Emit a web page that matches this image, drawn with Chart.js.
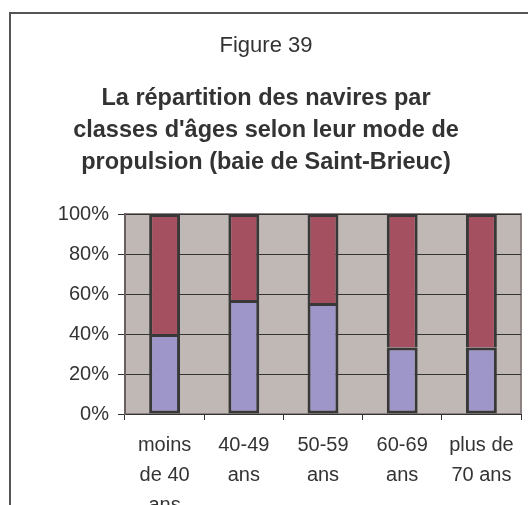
<!DOCTYPE html>
<html>
<head>
<meta charset="utf-8">
<script src="https://cdn.jsdelivr.net/npm/chart.js@4"></script>
<style>
  html, body { margin: 0; padding: 0; background: #fff; overflow: hidden; }
  #frame {
    position: absolute; left: 9px; top: 12px;
    width: 700px; height: 700px;
    border-left: 2px solid #555; border-top: 2px solid #555;
  }
  #chart { display: block; }
</style>
</head>
<body>
<div id="frame"><canvas id="chart" width="517" height="491"></canvas></div>
<script>
const categories = [
  ['moins', 'de 40', 'ans'],
  ['40-49', 'ans'],
  ['50-59', 'ans'],
  ['60-69', 'ans'],
  ['plus de', '70 ans']
];
const serie1 = [40, 57, 55.5, 33.3, 33.3];
const serie2 = [60, 43, 44.5, 66.7, 66.7];
const yTicks = [0, 20, 40, 60, 80, 100];

const FONT = '"Liberation Sans", Arial, Helvetica, sans-serif';

// grey plot background with a thin border
const plotBg = {
  id: 'plotBg',
  beforeDraw(chart) {
    const { ctx, chartArea: a } = chart;
    ctx.save();
    ctx.fillStyle = '#c0b8b5';
    ctx.fillRect(a.left, a.top, a.right - a.left, a.bottom - a.top);
    ctx.strokeStyle = '#8c8282';
    ctx.lineWidth = 2;
    ctx.strokeRect(a.left, a.top, a.right - a.left, a.bottom - a.top);
    ctx.restore();
  }
};

new Chart(document.getElementById('chart'), {
  type: 'bar',
  data: {
    labels: categories,
    datasets: [
      { label: 'Série 1', data: serie1, backgroundColor: '#9e96c8', borderSkipped: false },
      { label: 'Série 2', data: serie2, backgroundColor: '#a55060', borderSkipped: 'start' }
    ]
  },
  options: {
    responsive: false,
    animation: false,
    datasets: {
      bar: {
        borderColor: '#383838',
        borderWidth: 3,
        inflateAmount: 0,
        barPercentage: 0.39,
        categoryPercentage: 1
      }
    },
    plugins: {
      legend: { display: false },
      tooltip: { enabled: false },
      title: {
        display: true,
        text: 'Figure 39',
        color: '#333',
        font: { family: FONT, size: 22, weight: 'normal', lineHeight: 1.2 },
        padding: { top: 19, bottom: 23.6 }
      },
      subtitle: {
        display: true,
        text: ['La répartition des navires par', "classes d'âges selon leur mode de", 'propulsion (baie de Saint-Brieuc)'],
        color: '#333',
        font: { family: FONT, size: 23.5, weight: 'bold', lineHeight: 32 / 23.5 },
        padding: { top: 0, bottom: 35 }
      }
    },
    layout: { padding: { right: 7 } },
    scales: {
      x: {
        stacked: true,
        afterFit(s) { s.height = 91; },
        grid: { drawOnChartArea: false, color: '#333', tickLength: 6, offset: true },
        border: { color: '#333', width: 1 },
        ticks: {
          color: '#333',
          maxRotation: 0,
          autoSkip: false,
          padding: 10,
          font: { family: FONT, size: 20, lineHeight: 1.5 }
        }
      },
      y: {
        stacked: true,
        min: 0,
        max: 100,
        afterFit(s) { s.width = 114; },
        afterBuildTicks(s) { s.ticks = yTicks.map(v => ({ value: v })); },
        grid: { color: '#333', tickLength: 7 },
        border: { color: '#6a5f5f', width: 2 },
        ticks: {
          color: '#333',
          padding: 9,
          font: { family: FONT, size: 20 },
          callback: v => v + '%'
        }
      }
    }
  },
  plugins: [plotBg]
});
</script>
</body>
</html>
